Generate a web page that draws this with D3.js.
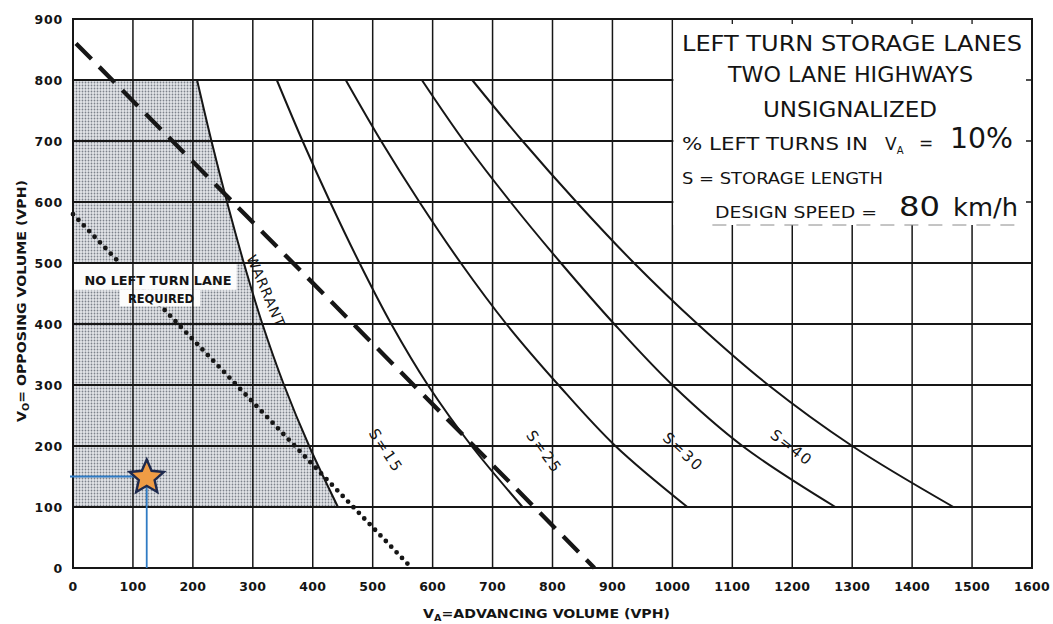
<!DOCTYPE html>
<html><head><meta charset="utf-8">
<script src="https://cdn.jsdelivr.net/npm/d3@7"></script>
<style>
body{margin:0;background:#fff}
svg{display:block}
text{font-family:"DejaVu Sans",sans-serif;fill:#141414}
</style>
</head><body>
<svg id="chart" width="1053" height="624"></svg>
<script>
// ---------- data ----------
const xTicks = [0,100,200,300,400,500,600,700,800,900,1000,1100,1200,1300,1400,1500,1600];
const yTicks = [0,100,200,300,400,500,600,700,800,900];
const xGrid = [100,200,300,400,500,600,700,800,900,1000,1100,1200,1300,1400,1500];
const yGrid = [100,200,300,400,500,600,700,800];

// warrant curve (boundary of "no left turn lane required" area)
const warrant = [[207,800],[231,700],[257,600],[285,500],[316,400],[352,300],[394,200],[442,100]];
// storage length curves
const s15 = [[340,800],[383,700],[429,600],[478,500],[531,400],[592,300],[665,200],[750,100]];
const s25 = [[455,800],[514,700],[578,600],[647,500],[723,400],[810,300],[905,200],[1025,100]];
const s30 = [[582,800],[652,700],[730,600],[814,500],[903,400],[1000,300],[1117,200],[1272,100]];
const s40 = [[666,800],[750,700],[840,600],[936,500],[1042,400],[1160,300],[1300,200],[1469,100]];
const dashedLine = [[5,860],[870,0]];
const dottedLine = [[0,580],[565,0]];
const studyPoint = [123,150];
const regionCorners = [[0,100],[0,800]];

const curveLabels = [
  {text:"WARRANT", x:322, y:454, angle:67, size:14, ls:1},
  {text:"S=15", x:522, y:192, angle:57, size:15, ls:2},
  {text:"S=25", x:786, y:190, angle:54, size:15, ls:2},
  {text:"S=30", x:1018, y:190, angle:43, size:15, ls:2},
  {text:"S=40", x:1199, y:197, angle:38, size:15, ls:2}
];

// ---------- layout ----------
const x = d3.scaleLinear().domain([0,1600]).range([73,1032]);
const y = d3.scaleLinear().domain([0,900]).range([568,19]);
const svg = d3.select("#chart");
const ink = "#161616";

// stipple pattern
const defs = svg.append("defs");
const pat = defs.append("pattern").attr("id","stip").attr("patternUnits","userSpaceOnUse")
  .attr("width",3).attr("height",3);
pat.append("rect").attr("width",3).attr("height",3).attr("fill","#e3e5e9");
pat.append("circle").attr("cx",1.5).attr("cy",1.5).attr("r",0.9).attr("fill","#7d828b");

const line = d3.line().x(d=>x(d[0])).y(d=>y(d[1]));
const smooth = d3.line().x(d=>x(d[0])).y(d=>y(d[1])).curve(d3.curveCatmullRom.alpha(0.5));

// shaded region: corners + warrant curve
const regionPath = line(regionCorners) + smooth(warrant).replace(/^M/, "L") + "Z";
svg.append("path").attr("d", regionPath).attr("fill","url(#stip)");

// dotted line (under label box)
svg.append("path").attr("d", line(dottedLine)).attr("fill","none")
  .attr("stroke",ink).attr("stroke-width",4.8).attr("stroke-linecap","round")
  .attr("stroke-dasharray","0 7.8");

// white label boxes
const labelBoxes = [[0,500,273,456],[78,456,212,429]];
labelBoxes.forEach(b=>{
  svg.append("rect").attr("x",x(b[0])).attr("y",y(b[1]))
    .attr("width",x(b[2])-x(b[0])).attr("height",y(b[3])-y(b[1])).attr("fill","#fcfcfc");
});

// grid
svg.append("g").selectAll("line").data(xGrid).join("line")
  .attr("x1",d=>x(d)).attr("x2",d=>x(d)).attr("y1",y(0)).attr("y2",y(900))
  .attr("stroke",ink).attr("stroke-width",1.5);
svg.append("g").selectAll("line").data(yGrid).join("line")
  .attr("x1",x(0)).attr("x2",x(1600)).attr("y1",d=>y(d)).attr("y2",d=>y(d))
  .attr("stroke",ink).attr("stroke-width",1.9);

// curves
[warrant,s15,s25,s30,s40].forEach(c=>{
  svg.append("path").attr("d",smooth(c)).attr("fill","none").attr("stroke",ink).attr("stroke-width",2);
});
svg.append("path").attr("d", line(dashedLine)).attr("fill","none")
  .attr("stroke",ink).attr("stroke-width",4.3).attr("stroke-dasharray","22 11");

// curve labels
curveLabels.forEach(l=>{
  svg.append("text").attr("transform",`translate(${x(l.x)},${y(l.y)}) rotate(${l.angle})`)
    .attr("text-anchor","middle").attr("dominant-baseline","central")
    .attr("font-size",l.size).attr("letter-spacing",l.ls).text(l.text);
});

// "No left turn lane required"
svg.append("text").attr("x",158).attr("y",285).attr("text-anchor","middle")
  .attr("font-size",12.5).attr("font-weight","bold").attr("textLength",147).attr("lengthAdjust","spacingAndGlyphs")
  .text("NO LEFT TURN LANE");
svg.append("text").attr("x",161).attr("y",302.5).attr("text-anchor","middle")
  .attr("font-size",12.5).attr("font-weight","bold").attr("textLength",66).attr("lengthAdjust","spacingAndGlyphs")
  .text("REQUIRED");

// info box
const boxBottom = 225;
svg.append("rect").attr("x",x(1000)+1).attr("y",y(900)).attr("width",x(1600)-x(1000)-1)
  .attr("height",boxBottom-y(900)).attr("fill","#fff");
svg.append("line").attr("x1",x(1000)+40).attr("x2",x(1600)-10).attr("y1",boxBottom).attr("y2",boxBottom)
  .attr("stroke","#8a8a8a").attr("stroke-width",1).attr("stroke-dasharray","14 10");
[1100,1200,1300,1400,1500].forEach(v=>{
  svg.append("line").attr("x1",x(v)).attr("x2",x(v)).attr("y1",y(900)).attr("y2",y(900)+5)
    .attr("stroke",ink).attr("stroke-width",1.3);
});
[800,700,600].forEach(v=>{
  svg.append("line").attr("x1",x(1600)-6).attr("x2",x(1600)).attr("y1",y(v)).attr("y2",y(v))
    .attr("stroke",ink).attr("stroke-width",1.5);
});

function boxText(str, x0, base, size, len){
  return svg.append("text").attr("x",x0).attr("y",base).attr("font-size",size)
    .attr("textLength",len).attr("lengthAdjust","spacingAndGlyphs").text(str);
}
boxText("LEFT TURN STORAGE LANES",682,51,21,340);
boxText("TWO LANE HIGHWAYS",728,82,21,245);
boxText("UNSIGNALIZED",763,117,21,174);
boxText("% LEFT TURNS IN",682,150,17,186);
const va = svg.append("text").attr("x",885).attr("y",150).attr("font-size",17);
va.append("tspan").text("V");
va.append("tspan").attr("font-size",10).attr("dy",4).text("A");
svg.append("text").attr("x",919).attr("y",149).attr("font-size",17).text("=");
boxText("10%",950,148,29,63);
boxText("S = STORAGE LENGTH",682,184,16.5,201);
boxText("DESIGN SPEED =",715,218,16.5,162);
boxText("80",899,216,26,41);
boxText("km/h",953,216,25,65);

// frame
svg.append("rect").attr("x",x(0)).attr("y",y(900)).attr("width",x(1600)-x(0)).attr("height",y(0)-y(900))
  .attr("fill","none").attr("stroke",ink).attr("stroke-width",2);

// tick labels
svg.append("g").selectAll("text").data(yTicks).join("text")
  .attr("x",63).attr("y",d=>y(d)).attr("text-anchor","end").attr("dominant-baseline","central")
  .attr("font-size",12.5).attr("font-weight","bold").attr("letter-spacing",0.8).text(d=>d);
svg.append("g").selectAll("text").data(xTicks).join("text")
  .attr("x",d=>x(d)).attr("y",591).attr("text-anchor","middle")
  .attr("font-size",12.5).attr("font-weight","bold").attr("letter-spacing",0.3).text(d=>d);

// axis titles
const xt = svg.append("text").attr("x",423).attr("y",618).attr("font-size",12.5).attr("font-weight","bold")
  .attr("textLength",247).attr("lengthAdjust","spacingAndGlyphs");
xt.append("tspan").text("V");
xt.append("tspan").attr("font-size",8.5).attr("dy",3).text("A");
xt.append("tspan").attr("dy",-3).text("=ADVANCING  VOLUME  (VPH)");

const yt = svg.append("text").attr("transform","translate(26,422) rotate(-90)")
  .attr("font-size",12.5).attr("font-weight","bold")
  .attr("textLength",242).attr("lengthAdjust","spacingAndGlyphs");
yt.append("tspan").text("V");
yt.append("tspan").attr("font-size",8.5).attr("dy",3).text("O");
yt.append("tspan").attr("dy",-3).text("= OPPOSING  VOLUME  (VPH)");

// study point with guide lines
const blue = "#2f7bc4";
svg.append("line").attr("x1",x(0)-3).attr("x2",x(studyPoint[0])).attr("y1",y(studyPoint[1])).attr("y2",y(studyPoint[1]))
  .attr("stroke",blue).attr("stroke-width",1.8);
svg.append("line").attr("x1",x(studyPoint[0])).attr("x2",x(studyPoint[0])).attr("y1",y(studyPoint[1])).attr("y2",y(0))
  .attr("stroke",blue).attr("stroke-width",1.8);
function starPath(R, r){
  const pts=[];
  for(let i=0;i<10;i++){
    const a = -Math.PI/2 + i*Math.PI/5;
    const rad = i%2===0?R:r;
    pts.push([rad*Math.cos(a), rad*Math.sin(a)]);
  }
  return "M"+pts.map(p=>p.join(",")).join("L")+"Z";
}
svg.append("path").attr("transform",`translate(${x(studyPoint[0])},${y(studyPoint[1])+1})`)
  .attr("d",starPath(18,8.3)).attr("fill","#ef9c45").attr("stroke","#1e2a4e").attr("stroke-width",2.4)
  .attr("stroke-linejoin","miter");
</script>
</body></html>
